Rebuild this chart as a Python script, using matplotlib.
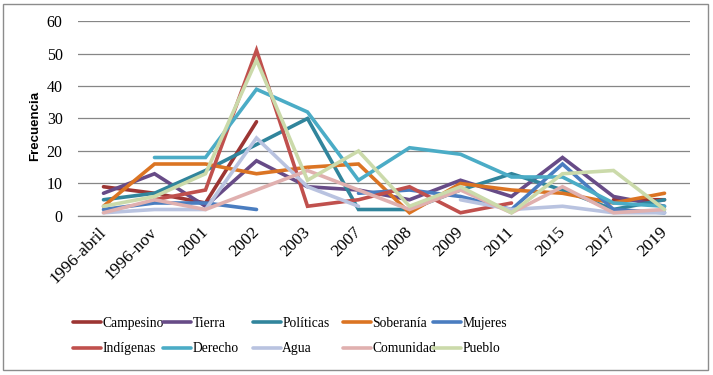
import matplotlib
matplotlib.use('Agg')
import matplotlib.pyplot as plt
import numpy as np

# --- 1. DONNEES ---
nan = np.nan
categorias = ['1996-abril', '1996-nov', '2001', '2002', '2003', '2007',
              '2008', '2009', '2011', '2015', '2017', '2019']

campesino = [9, 7, 4, 29, nan, nan, nan, nan, nan, nan, 5, 5]
tierra    = [7, 13, 3, 17, 9, 8, 5, 11, 6, 18, 6, 3]
politicas = [5, 7, 14, 22, 30, 2, 2, 8, 13, 8, 2, 5]
soberania = [3, 16, 16, 13, 15, 16, 1, 10, 8, 7, 4, 7]
mujeres   = [2, 4, 4, 2, nan, 7, 8, 6, 2, 16, 2, 1]
indigenas = [nan, 5, 8, 51, 3, 5, 9, 1, 4, nan, nan, nan]
derecho   = [nan, 18, 18, 39, 32, 11, 21, 19, 12, 12, 4, 3]
agua      = [1, 2, 2, 24, 9, 3, nan, 5, 2, 3, 1, 1]
comunidad = [1, 5, 2, 8, 14, 8, 2, 8, 1, 9, 1, 2]
pueblo    = [3, 6, 13, 48, 11, 20, 3, 9, 1, 13, 14, 2]

nombres = ['Campesino', 'Tierra', 'Políticas', 'Soberanía', 'Mujeres',
           'Indígenas', 'Derecho', 'Agua', 'Comunidad', 'Pueblo']
series = [campesino, tierra, politicas, soberania, mujeres,
          indigenas, derecho, agua, comunidad, pueblo]
colores = ['#9C3533', '#674B87', '#31859C', '#DB7423', '#4A7DC0',
           '#C0504D', '#4BACC6', '#B9C3E0', '#E0B0AF', '#CBDAAA']

# --- 2. FIGURE ---
fig = plt.figure(figsize=(7.13, 3.75), dpi=100)
ax = fig.add_axes([78 / 713, 1 - 216 / 375, 612 / 713, 195 / 375])

# cadre gris autour du graphique
fig.patches.append(plt.Rectangle((3 / 713, 5 / 375), 705 / 713, 366 / 375, fill=False,
                                 edgecolor='#8C8C8C', linewidth=1, transform=fig.transFigure))

x = np.arange(len(categorias))
lignes = []
for nom, vals, col in zip(nombres, series, colores):
    l, = ax.plot(x, vals, color=col, linewidth=2.6, label=nom, solid_capstyle='round',
                 solid_joinstyle='miter')
    lignes.append(l)

# --- 3. AXES ---
ax.set_xlim(-0.5, len(categorias) - 0.5)
ax.set_ylim(0, 60)
ax.set_yticks(range(0, 61, 10))
ax.grid(axis='y', color='#868686', linewidth=0.9)
ax.set_axisbelow(True)
for s in ['top', 'right', 'left']:
    ax.spines[s].set_visible(False)
ax.spines['bottom'].set_color('#868686')
ax.spines['bottom'].set_linewidth(0.9)
ax.tick_params(length=0)
ax.set_xticks(x)
ax.set_xticklabels(categorias, rotation=45, ha='right', va='center', rotation_mode='anchor',
                   family='Liberation Serif', fontsize=12.5)
ax.tick_params(axis='x', pad=10)
for t in ax.get_yticklabels():
    t.set_family('Liberation Serif')
    t.set_fontsize(11.5)
ax.tick_params(axis='y', pad=11)
ax.set_ylabel('Frecuencia', family='Liberation Sans', fontweight='bold', fontsize=9.5)
ax.yaxis.set_label_coords(-0.06, 0.46)

# --- 4. LEGENDE (5 colonnes, 2 lignes) ---
x_cols = [73, 163, 253, 343, 433]
for i, xc in enumerate(x_cols):
    fig.legend([lignes[i], lignes[i + 5]], [nombres[i], nombres[i + 5]],
               loc='center left', bbox_to_anchor=(xc / 713, 1 - 336 / 375),
               frameon=False, handlelength=2.05, handletextpad=0.1, labelspacing=0.95,
               borderpad=0, borderaxespad=0,
               prop={'family': 'Liberation Serif', 'size': 9.8})

fig.savefig('out.png', dpi=100)
